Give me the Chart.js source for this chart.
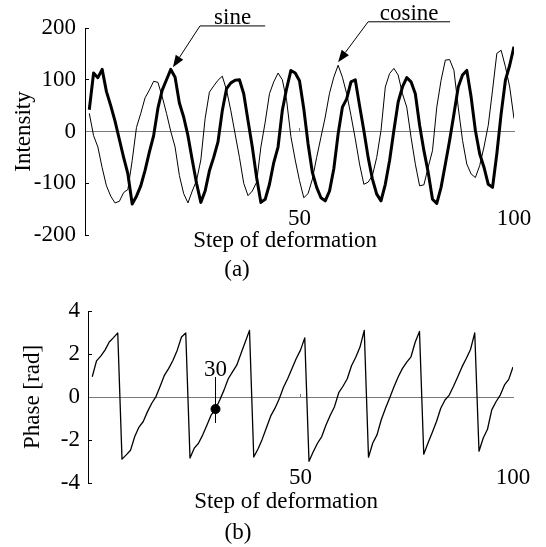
<!DOCTYPE html>
<html>
<head>
<meta charset="utf-8">
<script src="https://cdn.jsdelivr.net/npm/chart.js@4.4.1/dist/chart.umd.min.js"></script>
<style>
body { margin: 0; background: #fff; }
#page { position: relative; width: 546px; height: 547px; background: #fff; font-family: "Liberation Serif", "Times New Roman", serif; }
#page canvas { position: absolute; left: 0; }
.cap { position: absolute; font-size: 23px; line-height: 1; transform: translate(-50%, -50%); color: #000; }
</style>
</head>
<body>
<div id="page">
  <canvas id="wave" width="546" height="283" style="top:0"></canvas>
  <canvas id="phase" width="546" height="264" style="top:283px"></canvas>
  <div class="cap" style="left:237px;top:268px">(a)</div>
  <div class="cap" style="left:238px;top:531px">(b)</div>
</div>
<script>
// deformation steps 1..100
const steps = Array.from({length: 100}, (v, k) => k + 1);

const sine = [
   42, 113, 104, 120,  77,  50,  20, -15, -50, -82,
 -140,-125,-105, -75, -40,  -8,  45,  80, 100, 120,
  105,  55,  28,  -8, -55,-100,-137,-115, -76, -50,
  -20,  40,  83,  94,  99, 100,  73,  21, -30, -89,
 -137,-131,-102, -60, -30,  41,  83, 118, 113,  98,
   44, -24, -79,-108,-128,-134,-115, -72,  -5,  47,
   63,  96, 100,  50,   2, -50, -92,-121,-134,-102,
  -56,   2,  57,  86, 104,  96,  73,  12, -37, -79,
 -131,-139,-108, -63, -17,  34,  86, 109, 118,  67,
    2, -43, -69,-102,-108, -43,  34,  99, 128, 164
];

const cosine = [
   35,  -8, -30, -70,-105,-125,-138,-135,-118,-112,
  -56,   8,  35,  65,  80,  97,  95,  67,  35,   0,
  -30, -85,-120,-138,-115, -95, -55,  25,  76,  88,
   99, 107,  80,  40,  -5, -50,-100,-124,-115, -98,
  -30,  18,  73,  96, 113, 100,  60, -10, -55, -95,
 -128,-120, -92, -50, -11,  28,  74, 105, 128, 105,
   73,  31, -14, -63,-102, -98, -85, -50,   2,  86,
  112, 122, 109,  73,  47, -11, -63,-105,-103, -69,
  -37,  47,  99, 138, 139, 118,  47, -17, -63, -82,
  -89, -66, -30,  12,  80, 151, 157, 125,  86,  25
];

const phase = [
  0.94, 1.68, 1.90, 2.18, 2.56, 2.76, 2.98,-2.89,-2.69,-2.48,
 -1.84,-1.40,-1.14,-0.68,-0.29, 0.02, 0.51, 1.02, 1.33, 1.71,
  2.18, 2.79, 2.98,-2.84,-2.38,-2.15,-1.76,-1.30,-0.83,-0.56,
 -0.14, 0.32, 0.85, 1.17, 1.48, 2.02, 2.56, 3.10,-2.79,-2.42,
 -1.96,-1.42,-0.88,-0.52,-0.08, 0.45, 0.86, 1.33, 1.79, 2.18,
  2.75,-2.99,-2.55,-2.15,-1.84,-1.30,-0.85,-0.45, 0.20, 0.50,
  0.85, 1.45, 1.85, 2.32, 3.10,-2.80,-2.14,-1.76,-1.06,-0.52,
 -0.03, 0.48, 0.94, 1.33, 1.62, 1.87, 2.56, 3.05,-2.66,-2.14,
 -1.65,-1.14,-0.52,-0.14, 0.09, 0.50, 0.94, 1.40, 1.79, 2.21,
  2.98,-2.52,-1.91,-1.50,-0.60,-0.22, 0.09, 0.56, 0.82, 1.40
];

const markStep = 30;
const xTicks = [50, 100];
const waveTicks = [-200, -100, 0, 100, 200];
const phaseTicks = [-4, -2, 0, 2, 4];

Chart.defaults.font.family = '"Liberation Serif", "Times New Roman", serif';
Chart.defaults.font.size = 23;
Chart.defaults.color = '#000';

const pts = ys => ys.map((v, i) => ({x: steps[i], y: v}));
const setTicks = vals => s => { s.ticks = vals.map(v => ({value: v})); };

// labels with leader lines and arrows, plus the marked step on the phase plot
const callouts = {
  id: 'callouts',
  afterDatasetsDraw(chart, args, opts) {
    const {ctx} = chart;
    const x = chart.scales.x, y = chart.scales.y;
    ctx.save();
    ctx.strokeStyle = '#000';
    ctx.fillStyle = '#000';
    ctx.lineWidth = 1;
    ctx.font = '23px "Liberation Serif", serif';
    ctx.textAlign = 'center';
    ctx.textBaseline = 'alphabetic';
    (opts.arrows || []).forEach(a => {
      const x0 = x.getPixelForValue(a.line[0]);
      const x1 = x.getPixelForValue(a.line[1]);
      const yl = y.getPixelForValue(a.level);
      const tx = x.getPixelForValue(a.tip[0]);
      const ty = y.getPixelForValue(a.tip[1]);
      const ang = Math.atan2(ty - yl, tx - x0);
      const len = 12, half = 4.5;
      const bx = tx - len * Math.cos(ang), by = ty - len * Math.sin(ang);
      ctx.beginPath();
      ctx.moveTo(x1, yl);
      ctx.lineTo(x0, yl);
      ctx.lineTo(bx, by);
      ctx.stroke();
      ctx.beginPath();
      ctx.moveTo(tx, ty);
      ctx.lineTo(bx + half * Math.sin(ang), by - half * Math.cos(ang));
      ctx.lineTo(bx - half * Math.sin(ang), by + half * Math.cos(ang));
      ctx.closePath();
      ctx.fill();
      ctx.fillText(a.text, (x0 + x1) / 2, yl - 2);
    });
    if (opts.mark) {
      const m = opts.mark;
      const px = x.getPixelForValue(m.step);
      const top = y.getPixelForValue(m.top);
      ctx.beginPath();
      ctx.moveTo(px, top);
      ctx.lineTo(px, y.getPixelForValue(m.bottom));
      ctx.stroke();
      ctx.fillText(String(m.step), px, top - 1);
    }
    ctx.restore();
  }
};

function baseScales(cfg) {
  return {
    x: {
      type: 'linear', min: 0, max: 100,
      afterBuildTicks: setTicks(xTicks),
      grid: {display: false, drawTicks: false},
      border: {display: false},
      // mirrored so the step labels can sit inside the plot, above its lower edge
      ticks: {mirror: true, padding: cfg.xPad, maxRotation: 0, autoSkip: false},
      title: {display: true, text: 'Step of deformation     ', padding: {top: 0, bottom: cfg.titlePad}},
      afterFit: s => { s.height = cfg.xHeight; }
    },
    zero: {
      type: 'linear', axis: 'x', position: {y: 0}, min: 0, max: 100,
      afterBuildTicks: setTicks([50]),
      ticks: {display: false},
      grid: {drawOnChartArea: false, tickLength: -4, color: '#7a7a7a'},
      border: {color: '#7a7a7a', width: 1}
    },
    y: {
      min: cfg.yTicks[0], max: cfg.yTicks[cfg.yTicks.length - 1],
      afterBuildTicks: setTicks(cfg.yTicks),
      ticks: {padding: cfg.yPad},
      grid: {drawOnChartArea: false, tickLength: -4, color: '#000'},
      border: {color: '#000', width: 1},
      title: {display: true, text: cfg.yTitle, padding: {top: cfg.yTitlePad, bottom: 0}},
      afterFit: s => { s.width = cfg.yWidth; }
    }
  };
}

new Chart(document.getElementById('wave'), {
  type: 'line',
  data: {
    datasets: [
      {label: 'sine', data: pts(sine), xAxisID: 'x', borderColor: '#000', borderWidth: 3,
       pointRadius: 0, borderJoinStyle: 'round', tension: 0},
      {label: 'cosine', data: pts(cosine), xAxisID: 'x', borderColor: '#000', borderWidth: 1,
       pointRadius: 0, borderJoinStyle: 'round', tension: 0}
    ]
  },
  options: {
    responsive: false, animation: false, devicePixelRatio: 1,
    layout: {padding: {left: 0, right: 32, top: 28, bottom: 0}},
    plugins: {
      legend: {display: false}, tooltip: {enabled: false},
      callouts: {
        arrows: [
          {text: 'sine', line: [26.8, 42.0], level: 204, tip: [20.5, 124]},
          {text: 'cosine', line: [66.0, 85.1], level: 212, tip: [59.0, 134]}
        ]
      }
    },
    scales: baseScales({xPad: 2, titlePad: 28, xHeight: 48, yTicks: waveTicks, yPad: 13,
                        yTitle: 'Intensity', yTitlePad: 10, yWidth: 85})
  },
  plugins: [callouts]
});

new Chart(document.getElementById('phase'), {
  type: 'line',
  data: {
    datasets: [
      {label: 'phase', data: pts(phase), xAxisID: 'x', borderColor: '#000', borderWidth: 1.3,
       pointRadius: 0, borderJoinStyle: 'round', tension: 0},
      {label: 'step ' + markStep, data: [{x: markStep, y: phase[steps.indexOf(markStep)]}], xAxisID: 'x',
       showLine: false, pointRadius: 4.5, pointBackgroundColor: '#000', pointBorderColor: '#000'}
    ]
  },
  options: {
    responsive: false, animation: false, devicePixelRatio: 1,
    layout: {padding: {left: 0, right: 33, top: 28, bottom: 0}},
    plugins: {
      legend: {display: false}, tooltip: {enabled: false},
      callouts: {mark: {step: markStep, top: 0.93, bottom: -1.21}}
    },
    scales: baseScales({xPad: -9, titlePad: 31, xHeight: 64, yTicks: phaseTicks, yPad: 12,
                        yTitle: 'Phase [rad]', yTitlePad: 19, yWidth: 88})
  },
  plugins: [callouts]
});
</script>
</body>
</html>
